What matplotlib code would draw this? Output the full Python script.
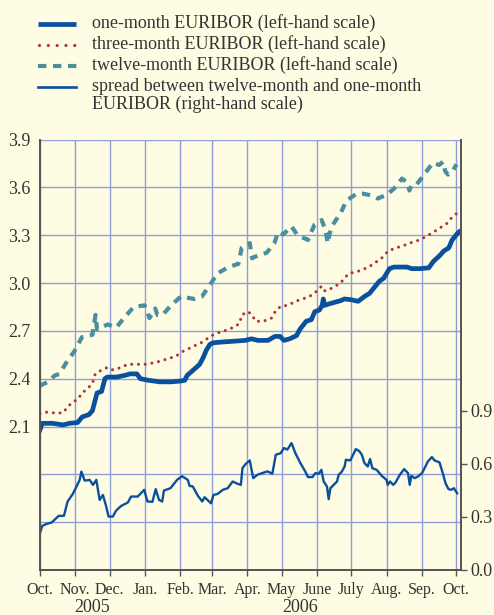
import numpy as np
import matplotlib as mpl
mpl.use('Agg')
import matplotlib.pyplot as plt
from matplotlib.lines import Line2D
import matplotlib.transforms as mtransforms

mpl.rcParams['font.family'] = 'Liberation Serif'
mpl.rcParams['text.color'] = '#333333'

# days counted from 1 Oct 2005
m1_days = [0, 2, 11, 20, 26, 33, 37, 43, 46, 50, 54, 57, 59, 67, 74, 79, 85, 88, 95, 105, 115,
           123, 127, 129, 133, 137, 140, 143, 146, 149, 152, 160, 170, 180, 185.5, 191, 200,
           206, 210.5, 214, 219, 225, 228, 233.5, 238, 241, 245, 247.5, 248.5, 249.5, 254, 264,
           267, 273, 279, 284.5, 289, 293, 297.5, 301.5, 306.5, 310.5, 322, 326, 333.5, 341,
           345, 351, 354, 358.5, 361.5, 366, 367.5]
m1_vals = [2.08, 2.12, 2.12, 2.11, 2.12, 2.125, 2.16, 2.175, 2.20, 2.31, 2.32, 2.40, 2.41, 2.41,
           2.42, 2.43, 2.43, 2.40, 2.39, 2.38, 2.38, 2.385, 2.39, 2.42, 2.445, 2.47, 2.49, 2.53,
           2.58, 2.615, 2.625, 2.63, 2.635, 2.64, 2.65, 2.64, 2.64, 2.665, 2.665, 2.64, 2.65,
           2.67, 2.71, 2.76, 2.77, 2.82, 2.83, 2.86, 2.90, 2.86, 2.87, 2.89, 2.90, 2.895, 2.885,
           2.915, 2.935, 2.97, 3.01, 3.03, 3.09, 3.10, 3.10, 3.09, 3.09, 3.095, 3.135, 3.175,
           3.20, 3.22, 3.27, 3.31, 3.32]

m3_days = [0, 6, 13, 20, 24, 28, 33, 37, 42, 46, 48.5, 53, 59, 64, 71, 77, 85, 92, 100, 105.6,
           112, 119, 125, 131, 136.7, 142.6, 149.3, 155, 161.8, 169, 175, 177, 182.6, 186, 189,
           196, 203, 206.6, 211.4, 217.7, 224, 230.6, 237.3, 243, 247, 250, 256.8, 263.6, 267,
           271, 277.3, 281.6, 288.2, 294.5, 300.3, 305.2, 312.3, 319, 326.3, 333, 339.4, 345.3,
           351.8, 357.1, 360.6, 366]
m3_vals = [2.18, 2.19, 2.185, 2.185, 2.22, 2.25, 2.27, 2.31, 2.34, 2.37, 2.43, 2.45, 2.47, 2.455,
           2.47, 2.49, 2.49, 2.49, 2.50, 2.51, 2.525, 2.54, 2.57, 2.59, 2.61, 2.63, 2.665, 2.685,
           2.70, 2.72, 2.745, 2.80, 2.82, 2.80, 2.76, 2.76, 2.78, 2.825, 2.855, 2.86, 2.885, 2.90,
           2.92, 2.95, 2.98, 2.95, 2.97, 3.00, 3.03, 3.06, 3.07, 3.08, 3.10, 3.13, 3.16, 3.20,
           3.22, 3.235, 3.255, 3.27, 3.295, 3.32, 3.35, 3.375, 3.405, 3.44]

m12_days = [0, 1, 7, 13, 17, 23, 30, 36.7, 43, 46, 48.7, 50, 52.4, 59.6, 66.8, 74.7, 82.3, 91.7,
            96, 101, 103, 107.6, 114.9, 123.6, 135.3, 142, 149.3, 155.5, 165.5, 174, 176.9, 184,
            186, 188.5, 198.8, 205.5, 209, 213.4, 220.6, 225.8, 235, 240.7, 247, 250.5, 252.3,
            254, 256.8, 264.2, 268.6, 277.6, 283.4, 290, 296.3, 304.6, 310.9, 317.5, 322, 324,
            326, 330.6, 338, 344.7, 350, 353.5, 355.5, 357.9, 362, 365.3]
m12_vals = [2.35, 2.36, 2.38, 2.42, 2.43, 2.50, 2.57, 2.66, 2.67, 2.675, 2.80, 2.71, 2.72, 2.74,
            2.72, 2.79, 2.85, 2.86, 2.78, 2.84, 2.80, 2.80, 2.86, 2.915, 2.90, 2.915, 2.99, 3.06,
            3.10, 3.12, 3.22, 3.25, 3.155, 3.165, 3.19, 3.25, 3.32, 3.305, 3.355, 3.30, 3.27,
            3.365, 3.395, 3.33, 3.25, 3.31, 3.365, 3.445, 3.515, 3.56, 3.56, 3.55, 3.53, 3.555,
            3.595, 3.655, 3.63, 3.58, 3.615, 3.62, 3.69, 3.755, 3.74, 3.76, 3.70, 3.68, 3.70,
            3.745]

spread_days = [0, 1.9, 5.6, 10.2, 13.3, 16.4, 21, 24.2, 28.8, 31.9, 34.8, 36.3, 39.2, 43.6, 46.5,
               49.4, 52.3, 55.2, 58.1, 60.1, 63.9, 66.8, 71.2, 77, 79.9, 85.7, 91.4, 94.3, 98.6,
               101.5, 104.4, 107.2, 108.7, 114.4, 120.2, 124.6, 129.7, 131.2, 134, 138.5, 142.3,
               144.3, 150, 152.2, 155.9, 160.3, 164.6, 169, 173.3, 176.2, 177.6, 180.5, 184, 187,
               190.7, 196.6, 199.5, 203.8, 206.8, 211.1, 214, 216.9, 220.6, 224, 228.4, 232.7,
               235, 239, 241.5, 244.5, 246.8, 248.8, 251.7, 253.2, 254.7, 257.6, 260.5, 262,
               264.8, 267.2, 268.3, 272.1, 274.2, 277, 280, 282.3, 284.6, 287.5, 289.5, 291.5,
               295.3, 299.7, 304, 305, 307, 309.8, 311.8, 315.6, 319.4, 322.8, 324.3, 325.7,
               328.6, 331.5, 335, 337.3, 340.2, 343.7, 346.1, 350.4, 353.3, 355.7, 358.3, 360.6,
               363, 365.9]
spread_vals = [0.208, 0.249, 0.26, 0.268, 0.287, 0.306, 0.306, 0.387, 0.43, 0.47, 0.509, 0.556,
               0.505, 0.509, 0.481, 0.509, 0.396, 0.424, 0.358, 0.302, 0.302, 0.336, 0.362, 0.381,
               0.415, 0.415, 0.453, 0.387, 0.385, 0.457, 0.396, 0.387, 0.449, 0.462, 0.509, 0.53,
               0.509, 0.475, 0.472, 0.419, 0.387, 0.411, 0.377, 0.424, 0.43, 0.453, 0.462, 0.50,
               0.487, 0.481, 0.576, 0.60, 0.619, 0.519, 0.538, 0.551, 0.557, 0.544, 0.651, 0.66,
               0.689, 0.68, 0.717, 0.66, 0.604, 0.556, 0.525, 0.525, 0.547, 0.544, 0.566, 0.50,
               0.472, 0.40, 0.462, 0.481, 0.50, 0.538, 0.556, 0.585, 0.623, 0.619, 0.645, 0.683,
               0.672, 0.651, 0.604, 0.585, 0.627, 0.575, 0.566, 0.532, 0.509, 0.481, 0.50, 0.481,
               0.494, 0.538, 0.57, 0.547, 0.481, 0.532, 0.519, 0.528, 0.547, 0.575, 0.613, 0.638,
               0.619, 0.608, 0.547, 0.49, 0.457, 0.453, 0.462, 0.434]

month_starts = [0, 31, 61, 92, 123, 151, 182, 212, 243, 273, 304, 335, 365]
month_labels = ['Oct.', 'Nov.', 'Dec.', 'Jan.', 'Feb.', 'Mar.', 'Apr.', 'May', 'June', 'July',
                'Aug.', 'Sep.', 'Oct.']
years = [('2005', 46), ('2006', 228.5)]

left_ticks = [1.2, 1.5, 1.8, 2.1, 2.4, 2.7, 3.0, 3.3, 3.6, 3.9]
right_ticks = [0.0, 0.3, 0.6, 0.9]

bg = '#fefce3'
blue = '#0b509e'
red = '#ad3535'
teal = '#4a8ea0'
gridc = '#8f9dd8'
axc = '#555555'

fig = plt.figure(figsize=(4.94, 6.15), dpi=100, facecolor=bg)

# legend drawn in pixel coordinates
leg = fig.add_axes([0, 0, 1, 1])
leg.set_xlim(0, 494)
leg.set_ylim(615, 0)
leg.axis('off')
leg.add_line(Line2D([38, 76], [24.3, 24.3], color=blue, lw=3.4, solid_capstyle='butt'))
leg.add_line(Line2D([39, 76], [45, 45], color=red, lw=2.3, ls=(0, (0.01, 2.75)),
                    dash_capstyle='round'))
leg.add_line(Line2D([38, 77], [66, 66], color=teal, lw=3.0, ls=(0, (2.0, 1.6))))
leg.add_line(Line2D([38, 76], [87.3, 87.3], color=blue, lw=1.9))
leg_text = ['one-month EURIBOR (left-hand scale)',
            'three-month EURIBOR (left-hand scale)',
            'twelve-month EURIBOR (left-hand scale)',
            'spread between twelve-month and one-month',
            'EURIBOR (right-hand scale)']
for t, yy in zip(leg_text, [23.5, 44.5, 65.5, 86.5, 104.5]):
    leg.text(92, yy, t, fontsize=13, va='center', ha='left')

ax = fig.add_axes([40/494, 1 - 570/615, 420.7/494, 430.5/615])
ax.set_facecolor(bg)
ax.set_xlim(0, 369)
ax.set_ylim(1.2, 3.9)
ax.set_yticks(left_ticks)
ax.set_yticklabels(['' if v < 2.0 else '%.1f' % v for v in left_ticks])
ax.set_xticks(month_starts)
ax.set_xticklabels(month_labels)
ax.grid(True, color=gridc, lw=1.0)
ax.set_axisbelow(True)
ax.tick_params(axis='y', length=0, pad=7, labelsize=13, labelcolor='#333333')
ax.tick_params(axis='x', length=4, width=1, direction='out', color=axc, pad=5,
               labelsize=11.5, labelcolor='#333333')
for s in ['left', 'right', 'bottom']:
    ax.spines[s].set_color(axc)
    ax.spines[s].set_linewidth(1.3)
ax.spines['top'].set_visible(False)

ax.plot(m12_days, m12_vals, color=teal, lw=3.0, ls=(0, (2.0, 1.6)))
ax.plot(m3_days, m3_vals, color=red, lw=2.2, ls=(0, (0.01, 2.2)), dash_capstyle='round')
ax.plot(m1_days, m1_vals, color=blue, lw=3.4, solid_joinstyle='round')

ax2 = ax.twinx()
ax2.set_ylim(0, 0.3 * 430.5 / 53.1)
ax2.set_yticks(right_ticks)
ax2.set_yticklabels(['%.1f' % v for v in right_ticks])
ax2.tick_params(axis='y', length=4, width=1, direction='out', color=axc, pad=3,
                labelsize=13, labelcolor='#333333')
for s in ['left', 'right', 'bottom']:
    ax2.spines[s].set_color(axc)
    ax2.spines[s].set_linewidth(1.3)
ax2.spines['top'].set_visible(False)
ax2.plot(spread_days, spread_vals, color=blue, lw=1.7)

trans = mtransforms.blended_transform_factory(ax.transData, fig.transFigure)
for label, xd in years:
    ax.text(xd, 1 - 608/615, label, transform=trans, ha='center', va='center', fontsize=13)

fig.savefig('out.png', dpi=100, facecolor=bg)
